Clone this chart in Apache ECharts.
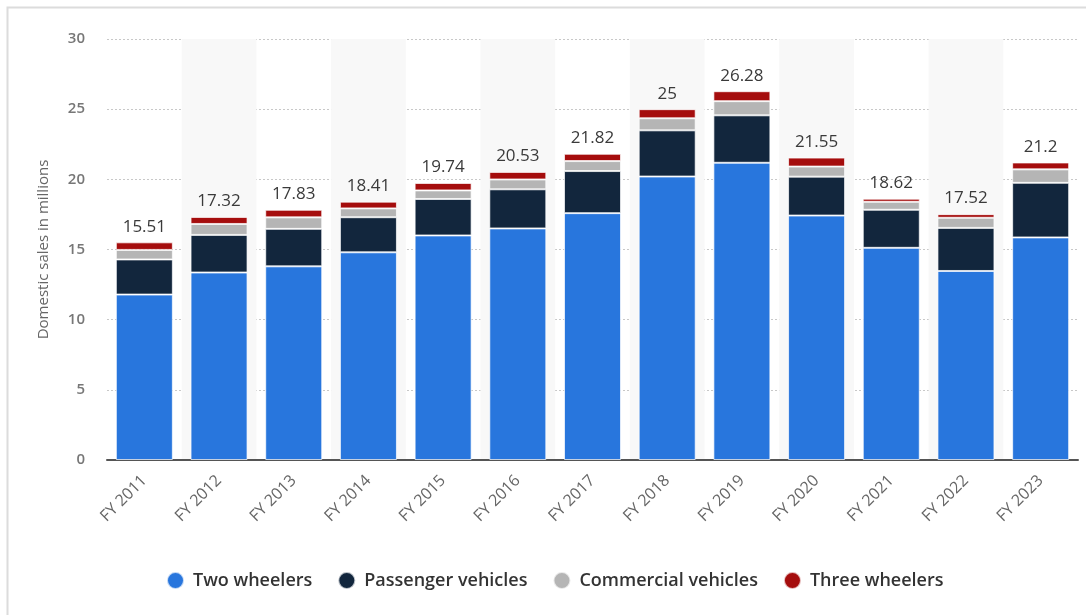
<!DOCTYPE html>
<html>
<head>
<meta charset="utf-8">
<script src="https://cdn.jsdelivr.net/npm/echarts@6/dist/echarts.min.js"></script>
<style>
  html, body { margin: 0; padding: 0; background: #fff; }
  #chart { width: 1086px; height: 615px; }
</style>
</head>
<body>
<div id="chart"></div>
<script>
// Domestic vehicle sales in India by segment (millions)
const years = ['FY 2011','FY 2012','FY 2013','FY 2014','FY 2015','FY 2016','FY 2017','FY 2018','FY 2019','FY 2020','FY 2021','FY 2022','FY 2023'];
const twoWheelers        = [11.79, 13.36, 13.80, 14.80, 16.00, 16.50, 17.59, 20.20, 21.18, 17.42, 15.12, 13.47, 15.86];
const passengerVehicles  = [2.50, 2.68, 2.67, 2.50, 2.60, 2.79, 3.00, 3.29, 3.38, 2.77, 2.71, 3.07, 3.89];
const commercialVehicles = [0.68, 0.78, 0.82, 0.63, 0.61, 0.70, 0.71, 0.86, 1.01, 0.72, 0.57, 0.72, 0.96];
const threeWheelers      = [0.54, 0.50, 0.54, 0.48, 0.53, 0.54, 0.52, 0.65, 0.71, 0.64, 0.22, 0.26, 0.49];
const totals             = [15.51, 17.32, 17.83, 18.41, 19.74, 20.53, 21.82, 25, 26.28, 21.55, 18.62, 17.52, 21.2];
const yTicks = { min: 0, max: 30, interval: 5 };

const FONT = '"Open Sans", "Noto Sans", sans-serif';
const segBorder = { borderColor: 'rgba(255,255,255,0.7)', borderWidth: 1 };

function stackSeries(name, data, color, isTop) {
  const s = {
    name: name,
    type: 'bar',
    stack: 'sales',
    data: data,
    barWidth: 57,
    itemStyle: Object.assign({ color: color }, segBorder),
    emphasis: { disabled: true }
  };
  if (isTop) {
    s.label = {
      show: true,
      position: 'top',
      distance: 7,
      fontFamily: FONT,
      fontSize: 17,
      color: '#3a3a3a',
      formatter: p => String(totals[p.dataIndex])
    };
  }
  return s;
}

const chart = echarts.init(document.getElementById('chart'), null, { renderer: 'canvas' });
chart.setOption({
  animation: false,
  backgroundColor: '#fff',
  textStyle: { fontFamily: FONT },
  graphic: [{
    type: 'rect',
    shape: { x: 7.5, y: 7.5, width: 1100, height: 700 },
    style: { fill: 'none', stroke: '#dcdcdc', lineWidth: 2 },
    silent: true,
    z: -10
  }],
  grid: { left: 107, right: 8, top: 39, bottom: 155, containLabel: false },
  legend: {
    left: 161,
    top: 566,
    icon: 'circle',
    itemWidth: 17,
    itemHeight: 17,
    itemGap: 25,
    textStyle: { fontFamily: FONT, fontSize: 18, fontWeight: 600, color: '#333', padding: [0, 0, 0, 4] },
    data: ['Two wheelers', 'Passenger vehicles', 'Commercial vehicles', 'Three wheelers']
  },
  xAxis: {
    type: 'category',
    data: years,
    axisLine: { lineStyle: { color: '#555', width: 2 } },
    axisTick: { show: false },
    splitArea: { show: true, areaStyle: { color: ['rgba(255,255,255,0)', '#f8f8f8'] } },
    axisLabel: {
      rotate: 45,
      interval: 0,
      margin: 18,
      fontFamily: FONT,
      fontSize: 16,
      color: '#666'
    }
  },
  yAxis: {
    type: 'value',
    min: yTicks.min,
    max: yTicks.max,
    interval: yTicks.interval,
    name: 'Domestic sales in millions',
    nameLocation: 'middle',
    nameGap: 56,
    nameTextStyle: { fontFamily: FONT, fontSize: 15, color: '#666' },
    axisLine: { show: false },
    axisTick: { show: false },
    axisLabel: { margin: 22, fontFamily: FONT, fontSize: 15, fontWeight: 600, color: '#777' },
    splitLine: { lineStyle: { color: '#c8c8c8', type: [2, 2], width: 1 } }
  },
  series: [
    stackSeries('Two wheelers', twoWheelers, '#2876dd', false),
    stackSeries('Passenger vehicles', passengerVehicles, '#12263d', false),
    stackSeries('Commercial vehicles', commercialVehicles, '#b5b5b5', false),
    stackSeries('Three wheelers', threeWheelers, '#a50d0d', true)
  ]
});
</script>
</body>
</html>
